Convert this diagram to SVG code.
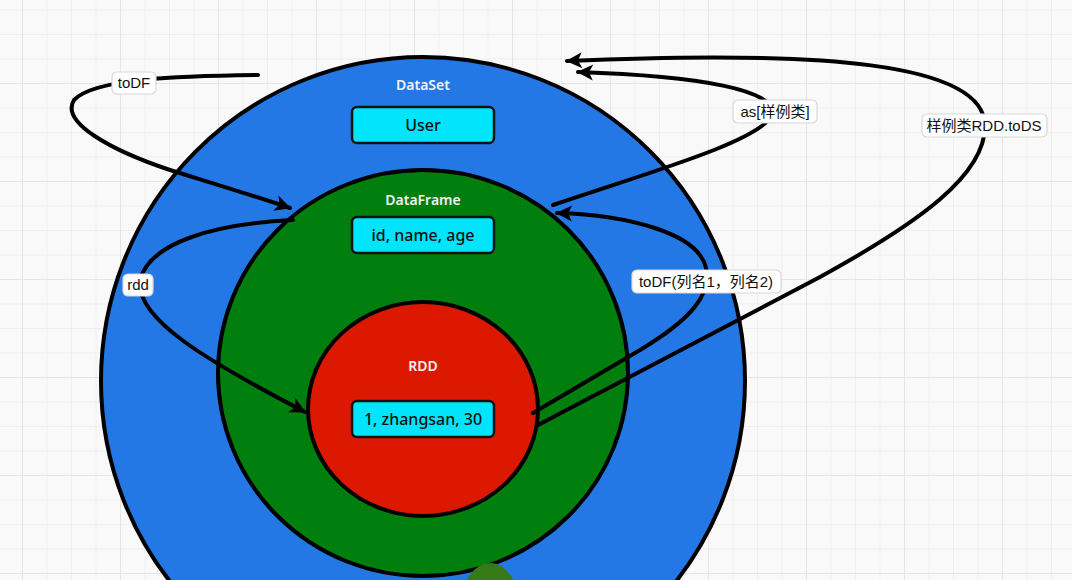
<svg xmlns="http://www.w3.org/2000/svg" width="1072" height="580" viewBox="0 0 1072 580">
  <defs>
    <pattern id="grid-minor" patternUnits="userSpaceOnUse" x="22" y="9.5" width="24.5" height="24.5">
      <path d="M0 0H24.5M0 0V24.5" fill="none" stroke="#ebebeb" stroke-width="1.5"/>
    </pattern>
    <pattern id="grid-major" patternUnits="userSpaceOnUse" x="22" y="83" width="98" height="98">
      <path d="M0 0H98M0 0V98" fill="none" stroke="#e4e4e4" stroke-width="2"/>
    </pattern>
    <marker id="arrow" viewBox="0 0 20 20" refX="17" refY="10" markerWidth="20" markerHeight="20" markerUnits="userSpaceOnUse" orient="auto">
      <path d="M2 2 L18 10 L2 18 L6 10 Z" fill="#000"/>
    </marker>
    <style>
      .ring { stroke: #000; stroke-width: 4; }
      .title { font-family: "Noto Sans", "Liberation Sans", sans-serif; font-size: 14px; font-weight: 600; fill: #f2f2f2; text-anchor: middle; }
      .box { fill: #00e5fb; stroke: #111; stroke-width: 2.5; }
      .box-text { font-family: "Noto Sans", "Liberation Sans", sans-serif; font-size: 16px; font-weight: 500; fill: #111; text-anchor: middle; }
      .edge { fill: none; stroke: #000; stroke-width: 4; stroke-linecap: round; }
      .tag { fill: #fff; stroke: #d8d8d8; stroke-width: 1.2; }
      .tag-text { font-family: "Liberation Sans", "Noto Sans CJK SC", sans-serif; font-size: 15px; fill: #111; text-anchor: middle; }
    </style>
  </defs>

  <!-- canvas grid -->
  <rect width="1072" height="580" fill="#f9f9f9"/>
  <rect width="1072" height="580" fill="url(#grid-minor)"/>
  <rect width="1072" height="580" fill="url(#grid-major)"/>

  <!-- DataSet -->
  <g id="dataset">
    <ellipse class="ring" cx="423" cy="381" rx="322" ry="324" fill="#2478e6"/>
    <text class="title" x="423" y="90">DataSet</text>
    <rect class="box" x="352" y="107" width="142" height="36" rx="5"/>
    <text class="box-text" x="423" y="131">User</text>
  </g>

  <!-- DataFrame -->
  <g id="dataframe">
    <ellipse class="ring" cx="423" cy="373" rx="205" ry="203" fill="#007f0f"/>
    <text class="title" x="423" y="205">DataFrame</text>
    <rect class="box" x="352" y="217" width="142" height="36" rx="5"/>
    <text class="box-text" x="423" y="241">id, name, age</text>
  </g>

  <!-- RDD -->
  <g id="rdd">
    <ellipse class="ring" cx="423" cy="409" rx="115" ry="107" fill="#dd1800"/>
    <text class="title" x="423" y="371">RDD</text>
    <rect class="box" x="352" y="401" width="142" height="36" rx="5"/>
    <text class="box-text" x="423" y="425">1, zhangsan, 30</text>
  </g>

  <!-- partial shape at lower edge -->
  <g id="blob">
    <ellipse cx="490" cy="605" rx="29" ry="42" fill="#367a18"/>
  </g>

  <!-- connectors -->
  <g id="connectors">
    <path class="edge" marker-end="url(#arrow)" d="M258 75 C180 76 95 78 74 100 C60 122 110 150 170 170 C215 184 255 196 290 208"/>
    <path class="edge" marker-end="url(#arrow)" d="M293 220 C215 224 150 242 140 280 C135 318 205 360 305 412"/>
    <path class="edge" marker-end="url(#arrow)" d="M553 205 C640 175 760 142 772 115 C778 90 700 76 578 72"/>
    <path class="edge" marker-end="url(#arrow)" d="M538 425 L820 277 C920 222 985 175 985 126 C985 62 820 50 567 61"/>
    <path class="edge" marker-end="url(#arrow)" d="M533 413 L640 350 C690 320 712 295 706 268 C698 232 625 215 557 213"/>
  </g>

  <!-- connector labels -->
  <g id="label-todf">
    <rect class="tag" x="112" y="72" width="44" height="22" rx="5"/>
    <text class="tag-text" x="134" y="88">toDF</text>
  </g>
  <g id="label-rdd">
    <rect class="tag" x="123" y="274" width="30" height="22" rx="5"/>
    <text class="tag-text" x="138" y="290">rdd</text>
  </g>
  <g id="label-as">
    <rect class="tag" x="733" y="100" width="84" height="23" rx="5"/>
    <text class="tag-text" x="775" y="117">as[样例类]</text>
  </g>
  <g id="label-tods">
    <rect class="tag" x="922" y="114" width="125" height="23" rx="5"/>
    <text class="tag-text" x="984" y="131">样例类RDD.toDS</text>
  </g>
  <g id="label-todf-cols">
    <rect class="tag" x="632" y="270" width="149" height="23" rx="5"/>
    <text class="tag-text" x="706" y="287">toDF(列名1，列名2)</text>
  </g>
</svg>
